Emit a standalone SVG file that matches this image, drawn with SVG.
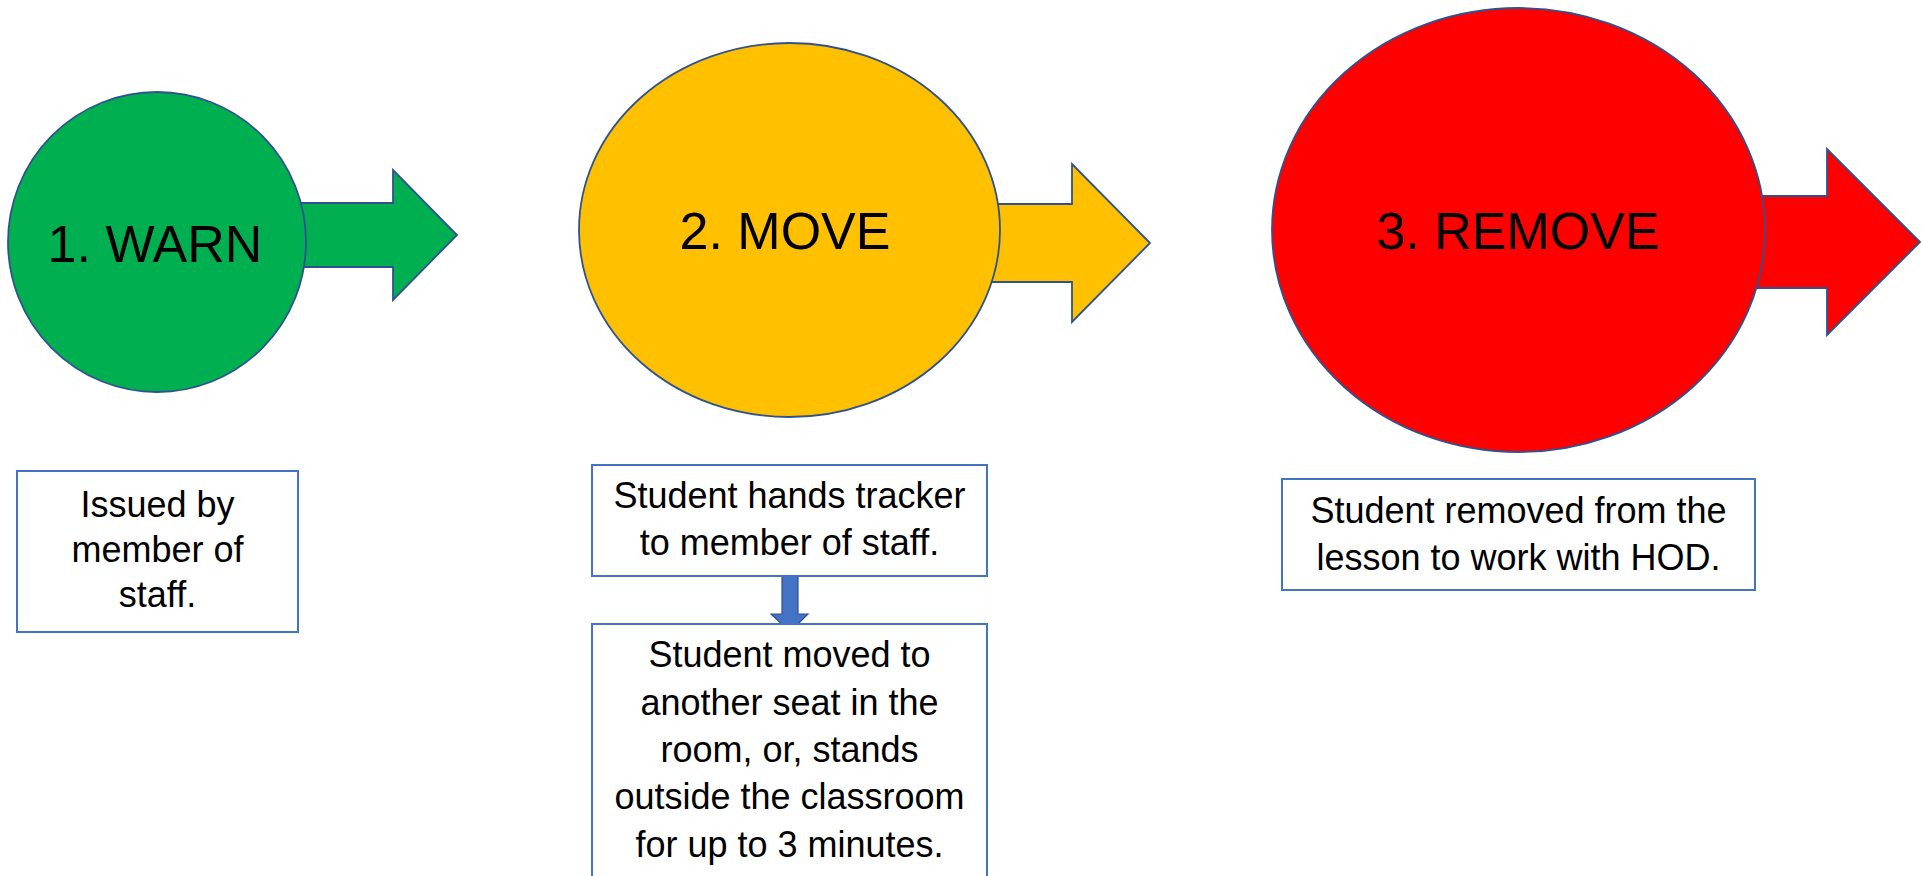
<svg xmlns="http://www.w3.org/2000/svg" width="1923" height="876" viewBox="0 0 1923 876">
<style>
.shape{stroke:#2F528F;stroke-width:1.8}
.box{fill:#FFFFFF;stroke:#4472C4;stroke-width:2}
.big{font-family:"Liberation Sans",Arial,sans-serif;font-size:52px;fill:#000;text-anchor:middle}
.txt{font-family:"Liberation Sans",Arial,sans-serif;font-size:36px;fill:#000;text-anchor:middle}
.green{fill:#00B050}
.yellow{fill:#FFC000}
.red{fill:#FF0000}
</style>
<rect width="1923" height="876" fill="#FFFFFF"/>
<g id="connectors">
<polygon class="shape green" points="200,203 393,203 393,170 457,235 393,300 393,267 200,267"/>
<polygon class="shape yellow" points="850,204 1072,204 1072,164 1150,243 1072,322 1072,282 850,282"/>
<polygon class="shape red" points="1600,196 1827,196 1827,149 1920,242 1827,335 1827,288 1600,288"/>
<polygon fill="#4472C4" stroke="#2F528F" stroke-width="1.2" points="782,564 798,564 798,614 808,614 790,632 771,614 782,614"/>
</g>
<g id="warn">
<ellipse class="shape green" cx="157" cy="242" rx="149" ry="150"/>
<text class="big" x="155" y="262">1. WARN</text>
</g>
<g id="move">
<ellipse class="shape yellow" cx="789.5" cy="230" rx="210.5" ry="187"/>
<text class="big" x="785" y="249">2. MOVE</text>
</g>
<g id="remove">
<ellipse class="shape red" cx="1518.5" cy="230" rx="246.5" ry="222"/>
<text class="big" x="1518" y="249">3. REMOVE</text>
</g>
<g id="box-warn">
<rect class="box" x="17" y="471" width="281" height="161"/>
<text class="txt" x="157.5" y="517">Issued by</text>
<text class="txt" x="157.5" y="562">member of</text>
<text class="txt" x="157.5" y="607">staff.</text>
</g>
<g id="box-move-1">
<rect class="box" x="592" y="465" width="395" height="111"/>
<text class="txt" x="789.5" y="508">Student hands tracker</text>
<text class="txt" x="789.5" y="555">to member of staff.</text>
</g>
<g id="box-move-2">
<rect class="box" x="592" y="624" width="395" height="260"/>
<text class="txt" x="789.5" y="667">Student moved to</text>
<text class="txt" x="789.5" y="715">another seat in the</text>
<text class="txt" x="789.5" y="762">room, or, stands</text>
<text class="txt" x="789.5" y="809">outside the classroom</text>
<text class="txt" x="789.5" y="857">for up to 3 minutes.</text>
</g>
<g id="box-remove">
<rect class="box" x="1282" y="479" width="473" height="111"/>
<text class="txt" x="1518.5" y="523">Student removed from the</text>
<text class="txt" x="1518.5" y="570">lesson to work with HOD.</text>
</g>
</svg>
